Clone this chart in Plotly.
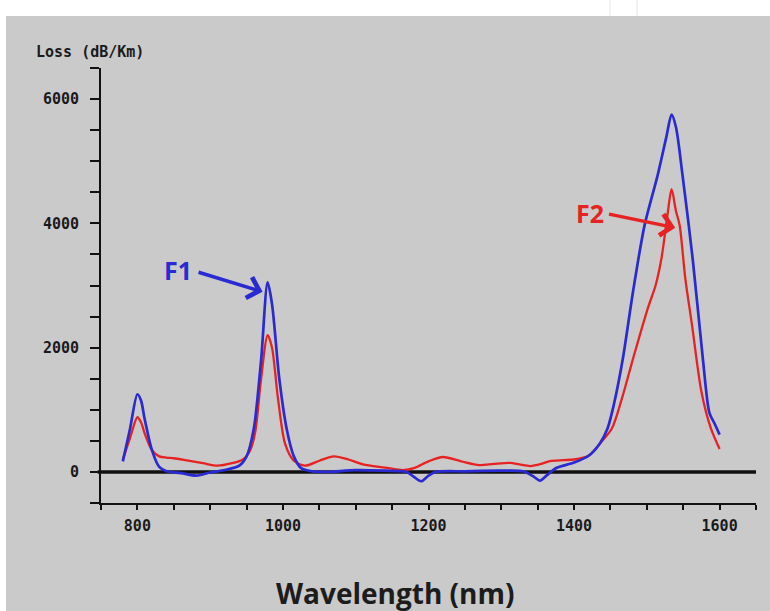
import plotly.graph_objects as go

# ---- data ----
wl_f1 = [780, 790, 800, 805, 810, 820, 830, 840, 860, 880, 890, 900, 920, 940, 950, 960, 970, 979, 985,
         995, 1005, 1015, 1025, 1040, 1060, 1100, 1140, 1170, 1180, 1190, 1200, 1210, 1250, 1300, 1330,
         1345, 1353, 1362, 1375, 1400, 1420, 1435, 1446, 1455, 1467, 1481, 1497, 1515, 1527, 1534, 1540,
         1549, 1563, 1577, 1586, 1593, 1600]
loss_f1 = [170, 700, 1250, 1150, 850, 350, 80, 10, -20, -60, -40, -10, 30, 100, 250, 700, 1800, 3050, 2700,
           1500, 700, 250, 60, 10, 0, 30, 20, 0, -80, -150, -60, 0, 10, 20, 10,
           -80, -140, -60, 60, 150, 260, 450, 700, 1100, 1820, 2900, 3975, 4780, 5400, 5750, 5550,
           4780, 3430, 1820, 950, 780, 600]

wl_f2 = [780, 790, 800, 805, 810, 820, 830, 840, 850, 870, 890, 910, 930, 945, 955, 962, 970, 979, 985,
         993, 1003, 1015, 1030, 1050, 1070, 1090, 1110, 1140, 1165, 1180, 1200, 1220, 1245, 1270, 1290,
         1312, 1325, 1340, 1355, 1367, 1385, 1400, 1420, 1435, 1452, 1465, 1481, 1501, 1512, 1520, 1528,
         1534, 1540, 1545, 1553, 1562, 1575, 1588, 1600]
loss_f2 = [200, 550, 880, 800, 620, 350, 250, 230, 220, 180, 140, 100, 140, 200, 350, 650, 1500, 2200, 2000,
           1200, 450, 180, 100, 180, 250, 200, 120, 70, 30, 60, 170, 240, 170, 110, 130,
           145, 120, 95, 130, 175, 190, 200, 260, 450, 700, 1150, 1820, 2620, 3000, 3430, 4100,
           4550, 4200, 3975, 3100, 2370, 1290, 700, 370]

x_tick_vals = list(range(750, 1651, 50))
x_tick_text = [str(v) if v in (800, 1000, 1200, 1400, 1600) else "" for v in x_tick_vals]
y_tick_vals = list(range(-500, 6501, 500))
y_tick_text = [str(v) if v in (0, 2000, 4000, 6000) else "" for v in y_tick_vals]

BLUE = "#2a2ad2"
RED = "#e62222"
BG = "#cacaca"

fig = go.Figure()
fig.add_trace(go.Scatter(x=wl_f2, y=loss_f2, mode="lines", name="F2",
                         line=dict(color=RED, width=2.3, shape="spline", smoothing=0.8)))
fig.add_trace(go.Scatter(x=wl_f1, y=loss_f1, mode="lines", name="F1",
                         line=dict(color=BLUE, width=2.7, shape="spline", smoothing=0.8)))

# plot area in pixels: x 101..756, y 68..503
L, R, T, B = 101, 14, 68, 108
PW, PH = 770 - L - R, 611 - T - B


def px(xp):
    return (xp - L) / PW


def py(yp):
    return (611 - B - yp) / PH


shapes = [
    dict(type="rect", xref="paper", yref="paper", x0=px(6), x1=px(775), y0=py(616), y1=py(16),
         fillcolor=BG, line=dict(width=0), layer="below"),
    dict(type="line", xref="paper", yref="paper", x0=px(610), x1=px(610), y0=py(0), y1=py(16),
         line=dict(color="#e2e2e2", width=1)),
    dict(type="line", xref="paper", yref="paper", x0=px(637), x1=px(637), y0=py(0), y1=py(16),
         line=dict(color="#e2e2e2", width=1)),
    dict(type="line", xref="paper", yref="y", x0=-0.005, x1=1, y0=0, y1=0,
         line=dict(color="#111111", width=3.5), layer="below"),
]

annotations = [
    dict(xref="paper", yref="paper", x=px(34), y=py(52), xanchor="left", yanchor="middle",
         text="Loss (dB/Km)", showarrow=False,
         font=dict(family="DejaVu Sans Mono", size=15, color="#1a1a1a", weight="bold")),
    dict(xref="paper", yref="paper", x=px(395), y=py(593), xanchor="center", yanchor="middle",
         text="Wavelength (nm)", showarrow=False,
         font=dict(family="Open Sans", size=28, color="#1c1c1c", weight="bold")),
    dict(x=856, y=3252, text="F1", showarrow=False,
         font=dict(family="Open Sans", size=25, color=BLUE, weight="bold")),
    dict(x=972, y=2900, ax=882, ay=3220, axref="x", ayref="y", text="", showarrow=True,
         arrowhead=4, arrowsize=1.2, arrowwidth=3.5, arrowcolor=BLUE),
    dict(x=1422, y=4170, text="F2", showarrow=False,
         font=dict(family="Open Sans", size=25, color=RED, weight="bold")),
    dict(x=1539, y=3930, ax=1446, ay=4154, axref="x", ayref="y", text="", showarrow=True,
         arrowhead=4, arrowsize=1.2, arrowwidth=3.5, arrowcolor=RED),
]

tick_font = dict(family="DejaVu Sans Mono", size=15, color="#1a1a1a", weight="bold")

fig.update_layout(
    width=770, height=611,
    margin=dict(l=L, r=R, t=T, b=B, pad=0),
    paper_bgcolor="white",
    plot_bgcolor="rgba(0,0,0,0)",
    showlegend=False,
    shapes=shapes,
    annotations=annotations,
    xaxis=dict(range=[750, 1650], tickmode="array", tickvals=x_tick_vals, ticktext=x_tick_text,
               showgrid=False, zeroline=False, showline=True, linecolor="#111111", linewidth=2,
               ticks="outside", ticklen=5, tickwidth=2, tickcolor="#111111",
               tickfont=tick_font, ticklabelstandoff=3),
    yaxis=dict(range=[-500, 6500], tickmode="array", tickvals=y_tick_vals, ticktext=y_tick_text,
               showgrid=False, zeroline=False, showline=True, linecolor="#111111", linewidth=2,
               ticks="outside", ticklen=9, tickwidth=2, tickcolor="#111111",
               tickfont=tick_font, ticklabelstandoff=8),
)

fig.write_html("out.html")
